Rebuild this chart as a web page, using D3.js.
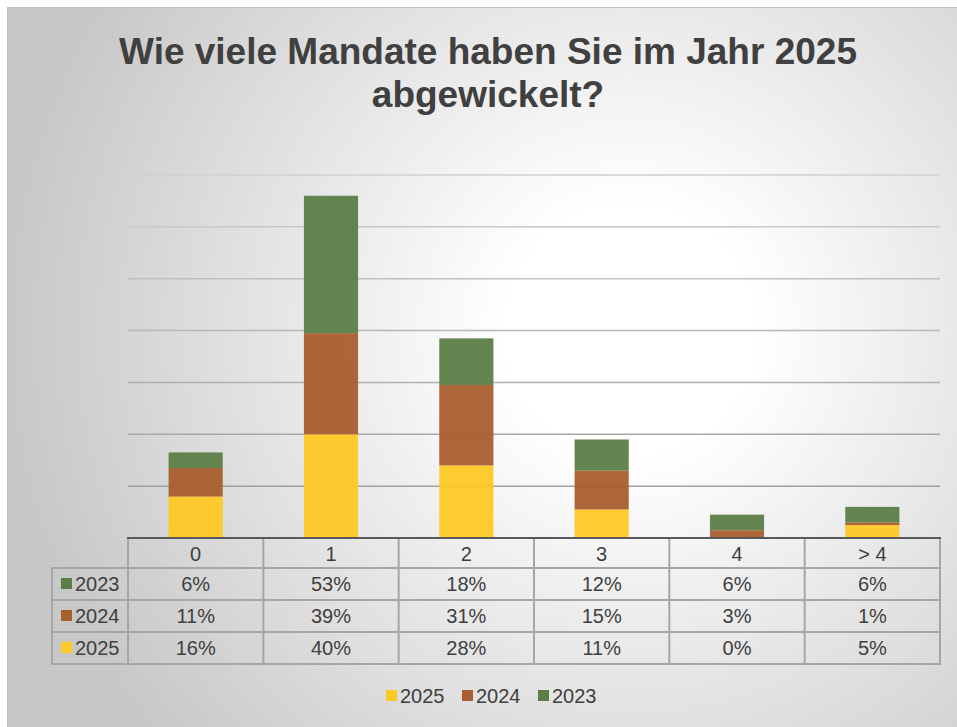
<!DOCTYPE html>
<html>
<head>
<meta charset="utf-8">
<script src="https://cdn.jsdelivr.net/npm/d3@7"></script>
<style>
  body { margin: 0; background: #fff; }
  text { font-family: "Liberation Sans", Arial, sans-serif; fill: #404040; }
</style>
</head>
<body>
<svg id="chart" width="957" height="727"></svg>
<script>
const categories = ["0", "1", "2", "3", "4", "> 4"];
const years = ["2025", "2024", "2023"]; // stacking order, bottom to top
const values2025 = [16, 40, 28, 11, 0, 5];
const values2024 = [11, 39, 31, 15, 3, 1];
const values2023 = [6, 53, 18, 12, 6, 6];
const yTicks = [20, 40, 60, 80, 100, 120, 140];
const tableRows = ["2023", "2024", "2025"]; // table order, top to bottom

const COLORS = { "2025": "#fec826", "2024": "#a85e2e", "2023": "#5c7d47" };
const seriesValues = { "2025": values2025, "2024": values2024, "2023": values2023 };

const svg = d3.select("#chart");
const W = 957, H = 727;

// background with radial gradient
const defs = svg.append("defs");
const grad = defs.append("radialGradient")
    .attr("id", "bg")
    .attr("gradientUnits", "userSpaceOnUse")
    .attr("cx", 630).attr("cy", 330).attr("r", 620);
grad.append("stop").attr("offset", "0").attr("stop-color", "#ffffff");
grad.append("stop").attr("offset", "0.2").attr("stop-color", "#ffffff");
grad.append("stop").attr("offset", "1").attr("stop-color", "#c8c8c8");

svg.append("rect")
    .attr("x", 7.5).attr("y", 7.5)
    .attr("width", W - 7).attr("height", H - 7)
    .attr("fill", "url(#bg)")
    .attr("stroke", "#c0c0c0")
    .attr("stroke-width", 1);

// title
const title = svg.append("text")
    .attr("text-anchor", "middle")
    .style("font-size", "37px")
    .style("font-weight", "bold");
title.append("tspan").attr("x", 488).attr("y", 64).text("Wie viele Mandate haben Sie im Jahr 2025");
title.append("tspan").attr("x", 488).attr("y", 107).text("abgewickelt?");

// scales
const x = d3.scaleBand().domain(categories).range([128, 940]).padding(0);
const y = d3.scaleLinear().domain([0, 140]).range([538, 175]);
const bw = x.bandwidth();

// gridlines
svg.append("g").selectAll("line").data(yTicks).join("line")
    .attr("x1", 128).attr("x2", 940)
    .attr("y1", d => y(d)).attr("y2", d => y(d))
    .attr("stroke", (d, i) => d3.interpolateRgb("#a0a0a0", "#d0d0d0")(i / (yTicks.length - 1)))
    .attr("stroke-width", 1.5);

// stacked bars
const stackData = categories.map((c, i) => {
    const row = { cat: c };
    years.forEach(yr => row[yr] = seriesValues[yr][i]);
    return row;
});
const stacked = d3.stack().keys(years)(stackData);

svg.append("g").selectAll("g").data(stacked).join("g")
    .attr("fill", d => COLORS[d.key])
    .attr("fill-opacity", 0.95)
    .selectAll("rect").data(d => d).join("rect")
    .attr("x", d => x(d.data.cat) + bw * 0.3)
    .attr("width", bw * 0.4)
    .attr("y", d => y(d[1]))
    .attr("height", d => y(d[0]) - y(d[1]));

// data table
const GRID = "#a6a6a6";
const rowH = 32;
const headTop = 539, headBot = 568;
const labelLeft = 52;
const tableBottom = headBot + rowH * tableRows.length;
const tbl = svg.append("g");

// vertical lines
const vx = categories.map(c => x(c)).concat([x.range()[1]]);
tbl.selectAll(".vline").data(vx).join("line")
    .attr("class", "vline")
    .attr("x1", d => d).attr("x2", d => d)
    .attr("y1", headTop).attr("y2", tableBottom)
    .attr("stroke", GRID).attr("stroke-width", 2);
tbl.append("line")
    .attr("x1", labelLeft).attr("x2", labelLeft)
    .attr("y1", headBot).attr("y2", tableBottom)
    .attr("stroke", GRID).attr("stroke-width", 2);

// horizontal lines
const hy = d3.range(tableRows.length + 1).map(i => headBot + i * rowH);
tbl.selectAll(".hline").data(hy).join("line")
    .attr("class", "hline")
    .attr("x1", labelLeft - 1).attr("x2", 941)
    .attr("y1", d => d).attr("y2", d => d)
    .attr("stroke", GRID).attr("stroke-width", 2);

// axis baseline
svg.append("line")
    .attr("x1", 127).attr("x2", 941)
    .attr("y1", 538).attr("y2", 538)
    .attr("stroke", "#595959").attr("stroke-width", 2);

// header labels
tbl.selectAll(".head").data(categories).join("text")
    .attr("class", "head")
    .attr("x", d => x(d) + bw / 2)
    .attr("y", (headTop + headBot) / 2 + 7)
    .attr("text-anchor", "middle")
    .style("font-size", "20px")
    .text(d => d);

// rows
tableRows.forEach((yr, r) => {
    const cy = headBot + r * rowH + rowH / 2;
    tbl.append("rect")
        .attr("x", 61).attr("y", cy - 6)
        .attr("width", 11).attr("height", 11)
        .attr("fill", COLORS[yr]);
    tbl.append("text")
        .attr("x", 75).attr("y", cy + 7)
        .style("font-size", "20px")
        .text(yr);
    tbl.selectAll(".cell" + yr).data(seriesValues[yr]).join("text")
        .attr("class", "cell" + yr)
        .attr("x", (d, i) => x(categories[i]) + bw / 2)
        .attr("y", cy + 7)
        .attr("text-anchor", "middle")
        .style("font-size", "20px")
        .text(d => d + "%");
});

// legend
const legendX = [386, 462, 538];
const leg = svg.append("g");
years.forEach((yr, i) => {
    leg.append("rect")
        .attr("x", legendX[i]).attr("y", 690)
        .attr("width", 11).attr("height", 11)
        .attr("fill", COLORS[yr]);
    leg.append("text")
        .attr("x", legendX[i] + 14).attr("y", 703)
        .style("font-size", "20px")
        .text(yr);
});
</script>
</body>
</html>
